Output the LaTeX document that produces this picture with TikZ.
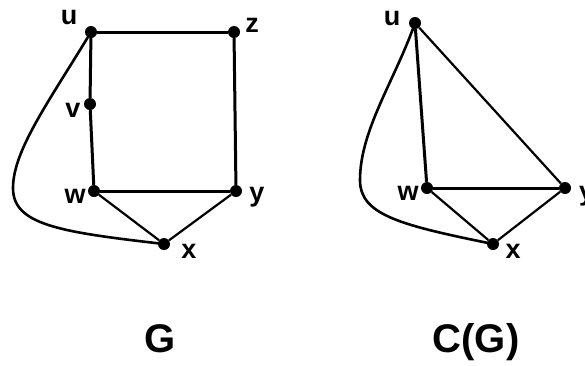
\documentclass[tikz,border=0pt]{standalone}
\usepackage{fontspec}
\setmainfont{Liberation Sans}
\begin{document}
\begin{tikzpicture}[x=1pt,y=-1pt,
  dot/.style={circle,fill=black,inner sep=0pt,minimum size=12pt},
  lbl/.style={font=\fontsize{27}{27}\selectfont\bfseries,anchor=base,inner sep=0pt},
  ttl/.style={font=\fontsize{40}{40}\selectfont\bfseries,anchor=base,inner sep=0pt},
  edgeA/.style={line width=3pt},
  edgeB/.style={line width=2.2pt},
  crv/.style={line width=2.6pt}]
\useasboundingbox (0,0) rectangle (585,365);
% Graph G
\node[dot] (u) at (91,32) {};
\node[dot] (z) at (234,32) {};
\node[dot] (v) at (90,104) {};
\node[dot] (w) at (94,191) {};
\node[dot] (y) at (236,191) {};
\node[dot] (x) at (164,244) {};
\coordinate (b1) at (13,188);
\draw[edgeA] (u) -- (z);
\draw[edgeA] (z) -- (y);
\draw[edgeA] (u) -- (v);
\draw[edgeA] (v) -- (w);
\draw[edgeA] (w) -- (y);
\draw[edgeB] (w) -- (x);
\draw[edgeB] (y) -- (x);
\draw[crv] (u.center) .. controls (50,100) and (13,150) .. (b1)
  .. controls (13,225) and (60,232) .. (x.center);
\node[lbl] (lu) at (69,24) {u};
\node[lbl] (lz) at (252,32) {z};
\node[lbl] (lv) at (73,117) {v};
\node[lbl] (lw) at (75,203) {w};
\node[lbl] (ly) at (257,201) {y};
\node[lbl] (lx) at (189,258) {x};
\node[ttl] (tG) at (160,352) {G};
% Graph C(G)
\node[dot] (u2) at (415,23) {};
\node[dot] (w2) at (427,188) {};
\node[dot] (y2) at (565,188) {};
\node[dot] (x2) at (493,244) {};
\coordinate (b2) at (360,180);
\draw[edgeA] (u2) -- (w2);
\draw[edgeA] (w2) -- (y2);
\draw[edgeB] (u2) -- (y2);
\draw[edgeB] (w2) -- (x2);
\draw[edgeB] (y2) -- (x2);
\draw[crv] (u2.center) .. controls (395,80) and (360,130) .. (b2)
  .. controls (360,215) and (400,225) .. (x2.center);
\node[lbl] (lu2) at (392,25) {u};
\node[lbl] (lw2) at (408,200) {w};
\node[lbl,anchor=base west] (ly2) at (579,200) {y};
\node[lbl] (lx2) at (513,258) {x};
\node[ttl] (tCG) at (476,352) {C(G)};
\end{tikzpicture}
\end{document}
